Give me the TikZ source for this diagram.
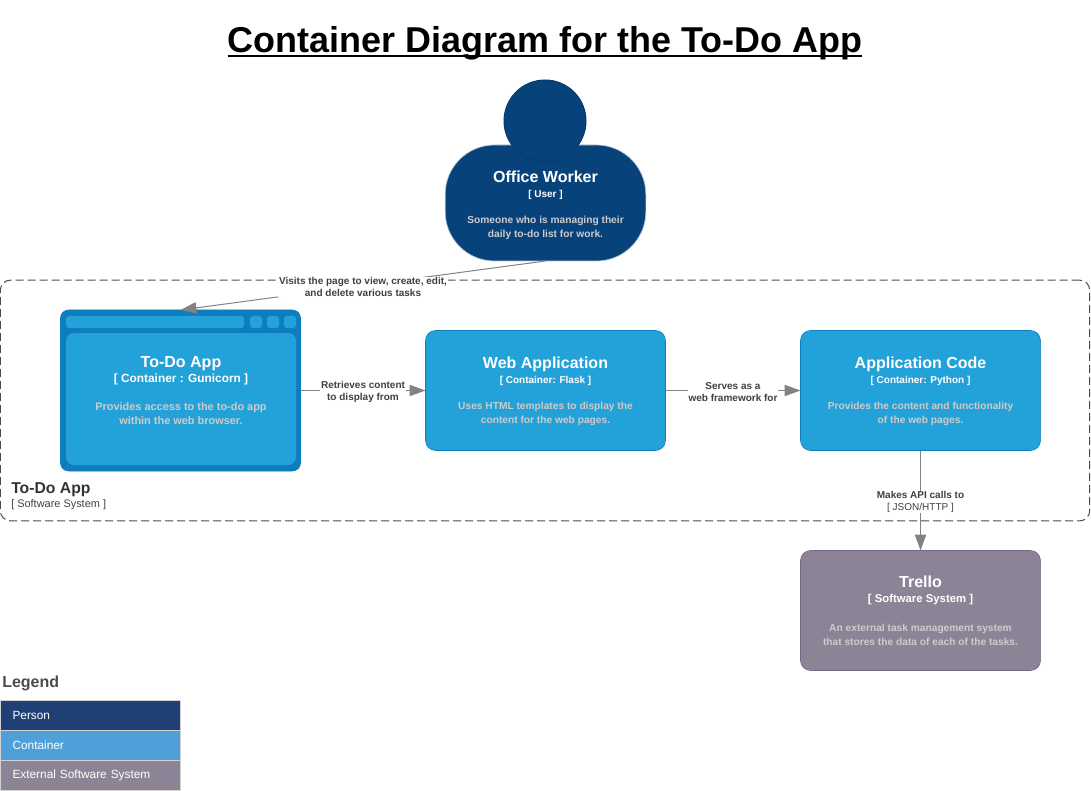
\documentclass[tikz,border=0pt]{standalone}
\usepackage{fontspec}
\setmainfont{Liberation Sans}
\usetikzlibrary{positioning,arrows.meta}
\definecolor{personblue}{HTML}{08427B}
\definecolor{personline}{HTML}{073B6F}
\definecolor{contblue}{HTML}{23A2D9}
\definecolor{contline}{HTML}{0E7DBE}
\definecolor{extgray}{HTML}{8C8496}
\definecolor{extline}{HTML}{736782}
\definecolor{arrgray}{HTML}{828282}
\definecolor{labgray}{HTML}{404040}
\definecolor{legperson}{HTML}{1E4074}
\definecolor{legcont}{HTML}{4FA0D8}
\newcommand\fsz[1]{\fontsize{#1}{#1}\selectfont}
\newcommand\rowfont{\fsz{8}\lineskiplimit=-20pt\relax}
\newcommand\subsz{7.5}
\newcommand\descsz{7.65}
\newcommand\subgap{11.5pt}
\newcommand\toplift{10.5pt}
\newcommand\boxtext[4]{{\rule{0pt}{\toplift}\fsz{12}\bfseries #1}\\[3.25pt]{\fsz{\subsz}\bfseries #2}\\[\subgap]{\fsz{\descsz}\bfseries\color{white!80!black} #3}\\[2.5pt]{\fsz{\descsz}\bfseries\color{white!80!black} #4}}
\tikzset{cbox/.style={draw=contline, fill=contblue, rounded corners=7.5pt, minimum width=180pt, minimum height=90pt, text=white, align=center, inner sep=0pt, outer sep=0pt, font=\rowfont}}
\tikzset{ebox/.style={cbox, draw=extline, fill=extgray}}
\tikzset{tab/.style={fill=contblue, rounded corners=2.2pt, inner sep=0pt, outer sep=0pt, anchor=north west}}
\tikzset{arr/.style={draw=arrgray, line width=0.75pt, -{Triangle[length=12pt,width=8.5pt]}}}
\tikzset{lbl/.style={fill=white, inner sep=0.6pt, yshift=-1pt, align=center, text=labgray, font=\fsz{7.5}\bfseries}}
\tikzset{legendrow/.style={draw=white!65!gray, line width=0.5pt, minimum width=135pt, minimum height=22.5pt, anchor=north west, inner sep=0pt, outer sep=0pt, text=white, text width=117pt, font=\fsz{8.9}}}
\begin{document}
\begin{tikzpicture}[x=0.75pt,y=-0.75pt]
	\useasboundingbox (0,0) rectangle (1091,791);
	\node[inner sep=0pt, font=\fsz{26.95}\bfseries] (title) at (545,43.5) {Container Diagram for the To-Do App};
	\draw[line width=2pt] ([yshift=-2.4pt]title.base west) -- ([yshift=-2.4pt]title.base east);

	% system boundary
	\node[draw=black!70, line width=0.75pt, dash pattern=on 6pt off 3pt, rounded corners=7.5pt, minimum width=817pt, minimum height=180.5pt, inner sep=0pt] (system) at (545,400.5) {};
	\node[anchor=north west, inner sep=0pt, align=left, text=black!80, font=\fsz{11.8}\bfseries] (systitle) at (11,482) {To-Do App};
	\node[anchor=north west, inner sep=0pt, text=labgray, font=\fsz{8.2}] (syssub) at (11,499) {[ Software System ]};

	% person
	\node[draw=white!70!personblue, fill=personblue, line width=0.5pt, rounded corners=37pt, minimum width=150.5pt, minimum height=87pt, text=white, align=center, inner sep=0pt, outer sep=0pt, font=\rowfont\def\toplift{12.5pt}] (worker) at (545.5,203) {\boxtext{Office Worker}{[ User ]}{Someone who is managing their}{daily to-do list for work.}};
	\node[circle, draw=personline, fill=personblue, line width=0.75pt, minimum size=61.5pt, inner sep=0pt, outer sep=0pt] (head) at (545,121) {};

	% containers
	\node[cbox, fill=contline, rounded corners=6pt, minimum height=120.75pt] (browser) at (180.5,390.5) {};
	\node[tab, minimum width=133.5pt, minimum height=9pt] (bar) at (66,316) {};
	\node[tab, minimum width=9pt, minimum height=9pt] (btna) at (250,316) {};
	\node[tab, minimum width=9pt, minimum height=9pt] (btnb) at (267,316) {};
	\node[tab, minimum width=9pt, minimum height=9pt] (btnc) at (284,316) {};
	\node[tab, rounded corners=6pt, minimum width=172.5pt, minimum height=99pt, text=white, align=center, anchor=center, font=\rowfont\def\subsz{8.9}\def\descsz{8.2}\def\subgap{13pt}] (todo) at (181,399) {\boxtext{To-Do App}{[ Container : Gunicorn ]}{Provides access to the to-do app}{within the web browser.}\\[7pt]{}};
	\node[cbox] (web) at (545.5,390.5) {\boxtext{Web Application}{[ Container: Flask ]}{Uses HTML templates to display the}{content for the web pages.}};
	\node[cbox] (code) at (920.5,390.5) {\boxtext{Application Code}{[ Container: Python ]}{Provides the content and functionality}{of the web pages.}};
	\node[ebox, font=\rowfont\def\subsz{8.5}\def\subgap{14pt}\def\toplift{9pt}] (trello) at (920.5,610.5) {\boxtext{Trello}{[ Software System ]}{An external task management system}{that stores the data of each of the tasks.}};

	% relations
	\draw[arr] (worker.south) to node[lbl]{Visits the page to view, create, edit,\\[1.2pt]and delete various tasks} (browser.north);
	\draw[arr] (browser) to node[lbl]{Retrieves content\\[1.2pt]to display from} (web);
	\draw[arr] (web) to node[lbl]{Serves as a\\[1.2pt]web framework for} (code);
	\draw[arr] (code) to node[lbl]{Makes API calls to\\[1.2pt]{\mdseries [ JSON/HTTP ]}} (trello);

	% legend
	\node[anchor=north west, inner sep=0pt, text=black!70, font=\fsz{12}\bfseries] (legend) at (2,676) {Legend};
	\node[legendrow, fill=legperson] (lperson) at (0.5,700) {Person};
	\node[legendrow, fill=legcont, below=0pt of lperson] (lcont) {Container};
	\node[legendrow, fill=extgray, below=0pt of lcont] (lext) {External Software System};
\end{tikzpicture}
\end{document}
